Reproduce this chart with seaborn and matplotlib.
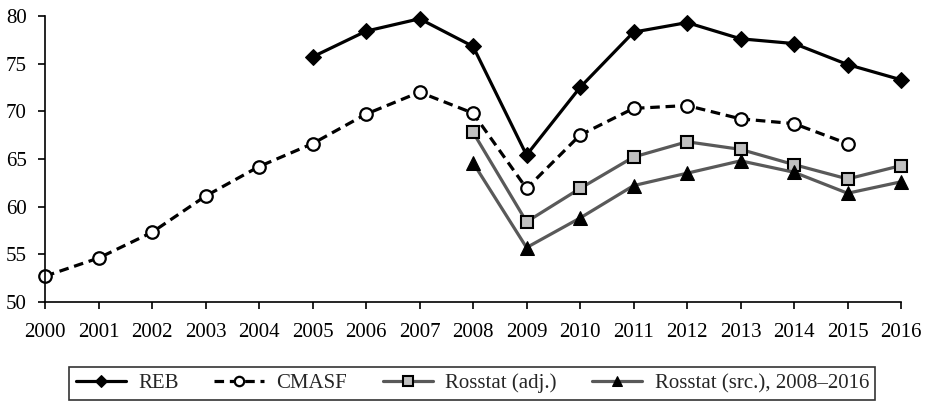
import numpy as np
import pandas as pd
import matplotlib
matplotlib.use("Agg")
import matplotlib.pyplot as plt
import seaborn as sns

years_reb = [2005, 2006, 2007, 2008, 2009, 2010, 2011, 2012, 2013, 2014, 2015, 2016]
reb = [75.7, 78.4, 79.7, 76.8, 65.4, 72.5, 78.3, 79.3, 77.6, 77.1, 74.9, 73.3]

years_cmasf = list(range(2000, 2016))
cmasf = [52.7, 54.6, 57.3, 61.1, 64.2, 66.6, 69.7, 72.0, 69.8, 61.9, 67.5, 70.3, 70.6, 69.2, 68.7, 66.6]

years_ross = list(range(2008, 2017))
ross_adj = [67.8, 58.4, 61.9, 65.2, 66.8, 66.0, 64.4, 62.9, 64.3]
ross_src = [64.6, 55.7, 58.8, 62.2, 63.5, 64.8, 63.6, 61.4, 62.6]

labels = ["REB", "CMASF", "Rosstat (adj.)", "Rosstat (src.), 2008\u20132016"]

sns.set_style("ticks")
plt.rcParams['font.family'] = ['Liberation Serif', 'DejaVu Serif']

fig, ax = plt.subplots(figsize=(9.28, 4.08), dpi=100)
fig.subplots_adjust(left=0.0485, right=0.971, bottom=0.26, top=0.961)

gray = "#595959"
sns.lineplot(x=years_reb, y=reb, ax=ax, color="black", lw=2.3, marker="D",
             markersize=8, markerfacecolor="black", markeredgecolor="black",
             label=labels[0], clip_on=False)
sns.lineplot(x=years_cmasf, y=cmasf, ax=ax, color="black", lw=2.3, linestyle=(0, (3, 1.8)),
             marker="o", markersize=9, markerfacecolor="white", markeredgecolor="black",
             markeredgewidth=1.6, label=labels[1], clip_on=False)
sns.lineplot(x=years_ross, y=ross_adj, ax=ax, color=gray, lw=2.3, marker="s",
             markersize=9, markerfacecolor="#c0c0c0", markeredgecolor="black",
             markeredgewidth=1.5, label=labels[2], clip_on=False)
sns.lineplot(x=years_ross, y=ross_src, ax=ax, color=gray, lw=2.3, marker="^",
             markersize=10, markerfacecolor="black", markeredgecolor="black",
             label=labels[3], clip_on=False)

ax.set_xlim(2000, 2016)
ax.set_ylim(50, 80)
ax.set_xticks(range(2000, 2017))
ax.set_yticks(range(50, 81, 5))
ax.tick_params(axis="both", labelsize=15, length=5, width=1.2, color="black", labelcolor="black")
ax.tick_params(axis="x", pad=10)
ax.tick_params(axis="y", pad=8)
for s in ["left", "bottom"]:
    ax.spines[s].set_color("black")
    ax.spines[s].set_linewidth(1.2)
sns.despine(ax=ax)
ax.set_xlabel("")
ax.set_ylabel("")

handles, labs = ax.get_legend_handles_labels()
ax.get_legend().remove()
leg = fig.legend(handles, labs, loc="center", bbox_to_anchor=(0.509, 0.06), ncol=4,
                 frameon=True, fancybox=False, edgecolor="black", fontsize=15,
                 handlelength=2.4, handletextpad=0.6, columnspacing=1.7,
                 borderpad=0.3, markerscale=0.75)
leg.get_frame().set_linewidth(1.2)

fig.savefig("out.png", dpi=100)
